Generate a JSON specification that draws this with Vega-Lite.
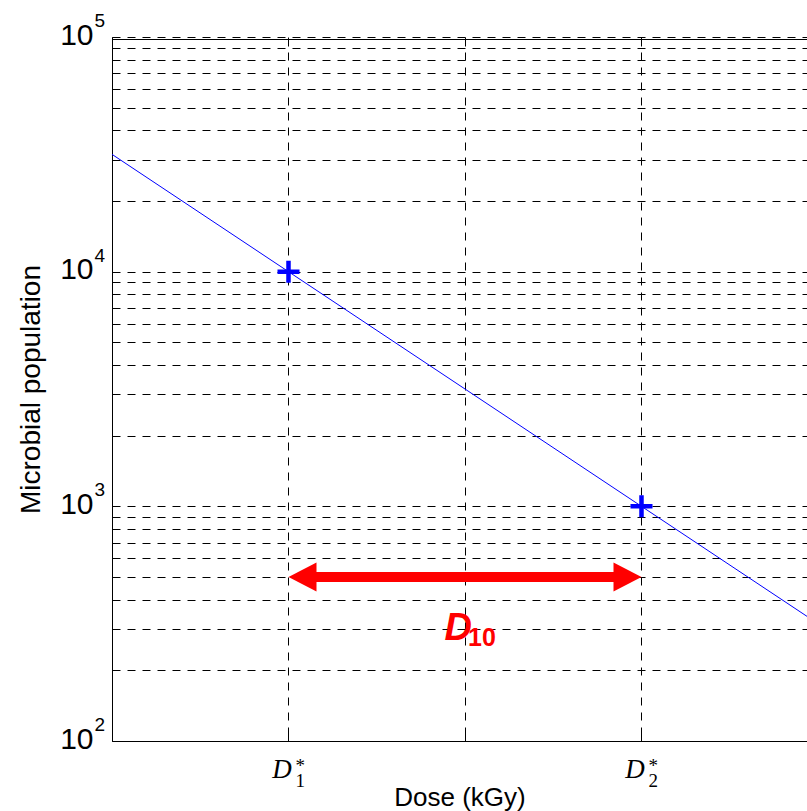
{
  "$schema": "https://vega.github.io/schema/vega-lite/v6.json",
  "width": 695,
  "height": 704,
  "autosize": {"type": "none"},
  "padding": {"left": 112, "top": 37, "right": 0, "bottom": 70},
  "background": "white",
  "config": {
    "view": {"stroke": null},
    "font": "Liberation Sans",
    "axis": {
      "domainColor": "black",
      "domainWidth": 1,
      "tickColor": "black",
      "tickWidth": 1,
      "labelColor": "black",
      "titleColor": "black",
      "titleFontWeight": "normal",
      "gridColor": "black",
      "gridOpacity": 1,
      "gridWidth": 1,
      "gridDash": [8, 7]
    },
    "axisY": {
      "labelFont": "Liberation Sans",
      "labelFontSize": 30,
      "titleFont": "Liberation Sans",
      "titleFontSize": 28
    }
  },
  "datasets": {
    "decay": [
      {"dose": 0, "population": 31623},
      {"dose": 4, "population": 316.2}
    ],
    "measured": [
      {"dose": 1, "population": 10000},
      {"dose": 3, "population": 1000}
    ],
    "span": [
      {"start": 1.1, "end": 2.9, "population": 500}
    ],
    "headLeft": [{"dose": 1, "population": 500}],
    "headRight": [{"dose": 3, "population": 500}],
    "d10": [{"dose": 2, "population": 300, "main": "D", "sub": "10"}],
    "decades": [
      {"dose": 0, "population": 100, "exp": "2"},
      {"dose": 0, "population": 1000, "exp": "3"},
      {"dose": 0, "population": 10000, "exp": "4"},
      {"dose": 0, "population": 100000, "exp": "5"}
    ],
    "doseMarks": [
      {"dose": 1, "population": 100, "sub": "1", "sup": "*"},
      {"dose": 3, "population": 100, "sub": "2", "sup": "*"}
    ]
  },
  "layer": [
    {
      "data": {"name": "decay"},
      "mark": {"type": "line", "color": "#0000FF", "strokeWidth": 1, "clip": true},
      "encoding": {
        "x": {
          "field": "dose",
          "type": "quantitative",
          "scale": {"domain": [0, 3.9377], "nice": false, "zero": false},
          "axis": {
            "orient": "bottom",
            "values": [1, 2, 3],
            "labelExpr": "datum.value == 2 ? '' : 'D'",
            "labelFont": "Liberation Serif",
            "labelFontStyle": "italic",
            "labelFontSize": 27,
            "labelOffset": -7,
            "labelPadding": 22,
            "tickSize": -7,
            "grid": true,
            "title": "Dose (kGy)",
            "titleFont": "Liberation Sans",
            "titleFontSize": 26,
            "titlePadding": 2
          }
        },
        "y": {
          "field": "population",
          "type": "quantitative",
          "scale": {"type": "log", "domain": [100, 100000], "nice": false},
          "axis": {
            "orient": "left",
            "values": [100, 200, 300, 400, 500, 600, 700, 800, 900, 1000, 2000, 3000, 4000, 5000, 6000, 7000, 8000, 9000, 10000, 20000, 30000, 40000, 50000, 60000, 70000, 80000, 90000, 100000],
            "labelExpr": "indexof([100, 1000, 10000, 100000], datum.value) >= 0 ? '10' : ''",
            "labelFont": "Liberation Sans",
            "labelFontSize": 30,
            "labelPadding": 26,
            "labelOffset": -2,
            "tickSize": -7,
            "grid": true,
            "title": "Microbial population",
            "titleFont": "Liberation Sans",
            "titleFontSize": 28,
            "titlePadding": 14
          }
        }
      }
    },
    {
      "data": {"name": "span"},
      "mark": {"type": "rule", "color": "#FF0000", "strokeWidth": 10, "strokeCap": "butt"},
      "encoding": {
        "x": {"field": "start", "type": "quantitative", "axis": {"orient": "top", "values": [1, 2, 3], "labels": false, "tickSize": -7, "grid": false, "title": null, "offset": -2}},
        "x2": {"field": "end"},
        "y": {"field": "population", "type": "quantitative"}
      }
    },
    {
      "data": {"name": "headLeft"},
      "mark": {"type": "point", "shape": "M0,0L2,-1.04L2,1.04Z", "filled": true, "color": "#FF0000", "opacity": 1, "size": 784},
      "encoding": {
        "x": {"field": "dose", "type": "quantitative", "axis": null},
        "y": {"field": "population", "type": "quantitative"}
      }
    },
    {
      "data": {"name": "headRight"},
      "mark": {"type": "point", "shape": "M0,0L-2,-1.04L-2,1.04Z", "filled": true, "color": "#FF0000", "opacity": 1, "size": 784},
      "encoding": {
        "x": {"field": "dose", "type": "quantitative", "axis": null},
        "y": {"field": "population", "type": "quantitative"}
      }
    },
    {
      "data": {"name": "measured"},
      "mark": {"type": "point", "shape": "M-1,0H1M0,-1V1", "filled": false, "stroke": "#0000FF", "strokeWidth": 4.5, "strokeCap": "butt", "opacity": 1, "size": 484},
      "encoding": {
        "x": {"field": "dose", "type": "quantitative", "axis": null},
        "y": {"field": "population", "type": "quantitative"}
      }
    },
    {
      "data": {"name": "d10"},
      "mark": {"type": "text", "align": "right", "baseline": "alphabetic", "dx": 7, "dy": 11, "font": "Liberation Sans", "fontSize": 38, "fontWeight": "bold", "fontStyle": "italic", "color": "#FF0000"},
      "encoding": {
        "x": {"field": "dose", "type": "quantitative", "axis": null},
        "y": {"field": "population", "type": "quantitative"},
        "text": {"field": "main"}
      }
    },
    {
      "data": {"name": "d10"},
      "mark": {"type": "text", "align": "left", "baseline": "alphabetic", "dx": 3, "dy": 17, "font": "Liberation Sans", "fontSize": 25, "fontWeight": "bold", "color": "#FF0000"},
      "encoding": {
        "x": {"field": "dose", "type": "quantitative", "axis": null},
        "y": {"field": "population", "type": "quantitative"},
        "text": {"field": "sub"}
      }
    },
    {
      "data": {"name": "decades"},
      "mark": {"type": "text", "align": "right", "baseline": "alphabetic", "dx": -7, "dy": -10, "font": "Liberation Sans", "fontSize": 19, "color": "black"},
      "encoding": {
        "x": {"field": "dose", "type": "quantitative", "axis": null},
        "y": {"field": "population", "type": "quantitative"},
        "text": {"field": "exp"}
      }
    },
    {
      "data": {"name": "doseMarks"},
      "mark": {"type": "text", "align": "left", "baseline": "alphabetic", "dx": 7, "dy": 46, "font": "Liberation Serif", "fontSize": 19, "color": "black"},
      "encoding": {
        "x": {"field": "dose", "type": "quantitative", "axis": null},
        "y": {"field": "population", "type": "quantitative"},
        "text": {"field": "sub"}
      }
    },
    {
      "data": {"name": "doseMarks"},
      "mark": {"type": "text", "align": "left", "baseline": "alphabetic", "dx": 7, "dy": 31, "font": "Liberation Serif", "fontSize": 19, "color": "black"},
      "encoding": {
        "x": {"field": "dose", "type": "quantitative", "axis": null},
        "y": {"field": "population", "type": "quantitative"},
        "text": {"field": "sup"}
      }
    }
  ],
  "resolve": {"axis": {"x": "independent"}}
}
